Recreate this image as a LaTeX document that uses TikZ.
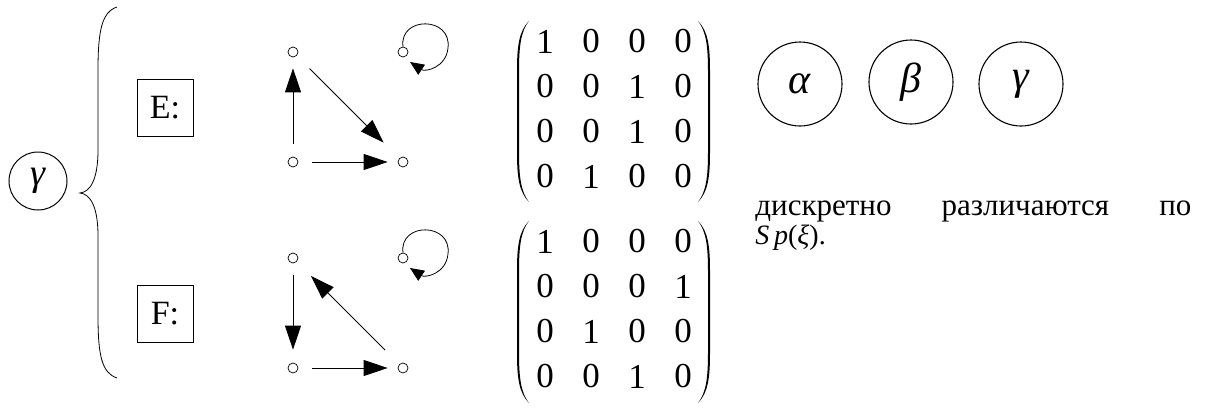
\documentclass[tikz,border=0pt]{standalone}
\usepackage{fontspec}
\setmainfont{Liberation Serif}
\usetikzlibrary{arrows.meta,matrix}
\newcommand\mylpar[3]{% x, ytop, ybot
  \fill (#1+12,#2) .. controls (#1+2,#2+10) and (#1,#2+25) .. (#1,#2+50) -- (#1,#3-50)
    .. controls (#1,#3-25) and (#1+2,#3-10) .. (#1+12,#3)
    .. controls (#1+4,#3-10) and (#1+2,#3-25) .. (#1+2,#3-50) -- (#1+2,#2+50)
    .. controls (#1+2,#2+25) and (#1+4,#2+10) .. (#1+12,#2) -- cycle;}
\newcommand\myrpar[3]{% x, ytop, ybot
  \fill (#1-12,#2) .. controls (#1-2,#2+10) and (#1,#2+25) .. (#1,#2+50) -- (#1,#3-50)
    .. controls (#1,#3-25) and (#1-2,#3-10) .. (#1-12,#3)
    .. controls (#1-4,#3-10) and (#1-2,#3-25) .. (#1-2,#3-50) -- (#1-2,#2+50)
    .. controls (#1-2,#2+25) and (#1-4,#2+10) .. (#1-12,#2) -- cycle;}
\begin{document}
\begin{tikzpicture}[x=1pt,y=-1pt,line width=0.9pt,
  vtx/.style={circle,draw,minimum size=10pt,inner sep=0pt,line width=0.7pt},
  arr/.style={-{Triangle[length=24pt,width=16pt]},line width=0.8pt},
  looparr/.style={-{Triangle[length=14pt,width=12pt]},line width=0.8pt},
  lbox/.style={draw,minimum width=56pt,minimum height=57pt,inner sep=0pt,font=\fontsize{34}{38}\selectfont},
  bigc/.style={circle,draw,minimum size=84pt,inner sep=0pt,line width=1.1pt,font=\fontsize{42}{46}\selectfont\itshape},
  smallc/.style={circle,draw,minimum size=58pt,inner sep=0pt,line width=1pt,font=\fontsize{38}{42}\selectfont\itshape},
  mat/.style={matrix of nodes,inner sep=0pt,nodes={minimum width=46pt,minimum height=45pt,inner sep=0pt,anchor=center,font=\fontsize{35}{38}\selectfont}},
  body/.style={inner sep=0pt,text width=436pt,align=justify,font=\fontsize{31}{29}\selectfont}
]
\useasboundingbox (0,0) rectangle (1216,410);
% left circle and brace
\node[smallc] (g) at (38,181) {γ};
\draw[line width=0.8pt] (117,7) .. controls (102,12) and (98,30) .. (98,70) -- (98,150)
  .. controls (98,180) and (90,192) .. (80,193)
  .. controls (90,194) and (98,206) .. (98,236) -- (98,316)
  .. controls (98,356) and (102,373) .. (117,378);
% label boxes
\node[lbox] (E) at (165,108) {E:};
\node[lbox] (F) at (165,314) {F:};
% graph E
\node[vtx] (e1) at (293,52) {};
\node[vtx] (e2) at (293,162) {};
\node[vtx] (e3) at (403,162) {};
\node[vtx] (e4) at (403,52) {};
\draw[arr,shorten <=13pt,shorten >=11pt] (e2) -- (e1);
\draw[arr,shorten <=14pt,shorten >=10pt] (e2) -- (e3);
\draw[arr,shorten <=18pt,shorten >=22pt] (e1) -- (e3);
\draw[looparr] (e4.north) .. controls (399,16) and (452,16) .. (448,48) .. controls (446,68) and (425,72) .. (410,62);
% graph F
\node[vtx] (f1) at (293,258) {};
\node[vtx] (f2) at (293,368) {};
\node[vtx] (f3) at (403,368) {};
\node[vtx] (f4) at (403,258) {};
\draw[arr,shorten <=12pt,shorten >=13pt] (f1) -- (f2);
\draw[arr,shorten <=14pt,shorten >=10pt] (f2) -- (f3);
\draw[arr,shorten <=20pt,shorten >=20pt] (f3) -- (f1);
\draw[looparr] (f4.north) .. controls (399,222) and (452,222) .. (448,254) .. controls (446,274) and (425,278) .. (410,268);
% matrices
\matrix (m1) [mat] at (614,109) {
1 & 0 & 0 & 0 \\
0 & 0 & 1 & 0 \\
0 & 0 & 1 & 0 \\
0 & 1 & 0 & 0 \\
};
\mylpar{517}{21}{202}
\myrpar{710}{21}{202}
\matrix (m2) [mat] at (614,309) {
1 & 0 & 0 & 0 \\
0 & 0 & 0 & 1 \\
0 & 1 & 0 & 0 \\
0 & 0 & 1 & 0 \\
};
\mylpar{517}{221}{403}
\myrpar{710}{221}{403}
% right circles
\node[bigc] (a) at (800,84) {α};
\node[bigc] (b) at (911,82) {β};
\node[bigc] (c) at (1021,84) {γ};
% text
\node[body,anchor=base west] (t) at (755,215) {дискретно различаются по\linebreak {\fontsize{28}{29}\selectfont\textit{S\,p}(\textit{ξ}).}};
\end{tikzpicture}
\end{document}
